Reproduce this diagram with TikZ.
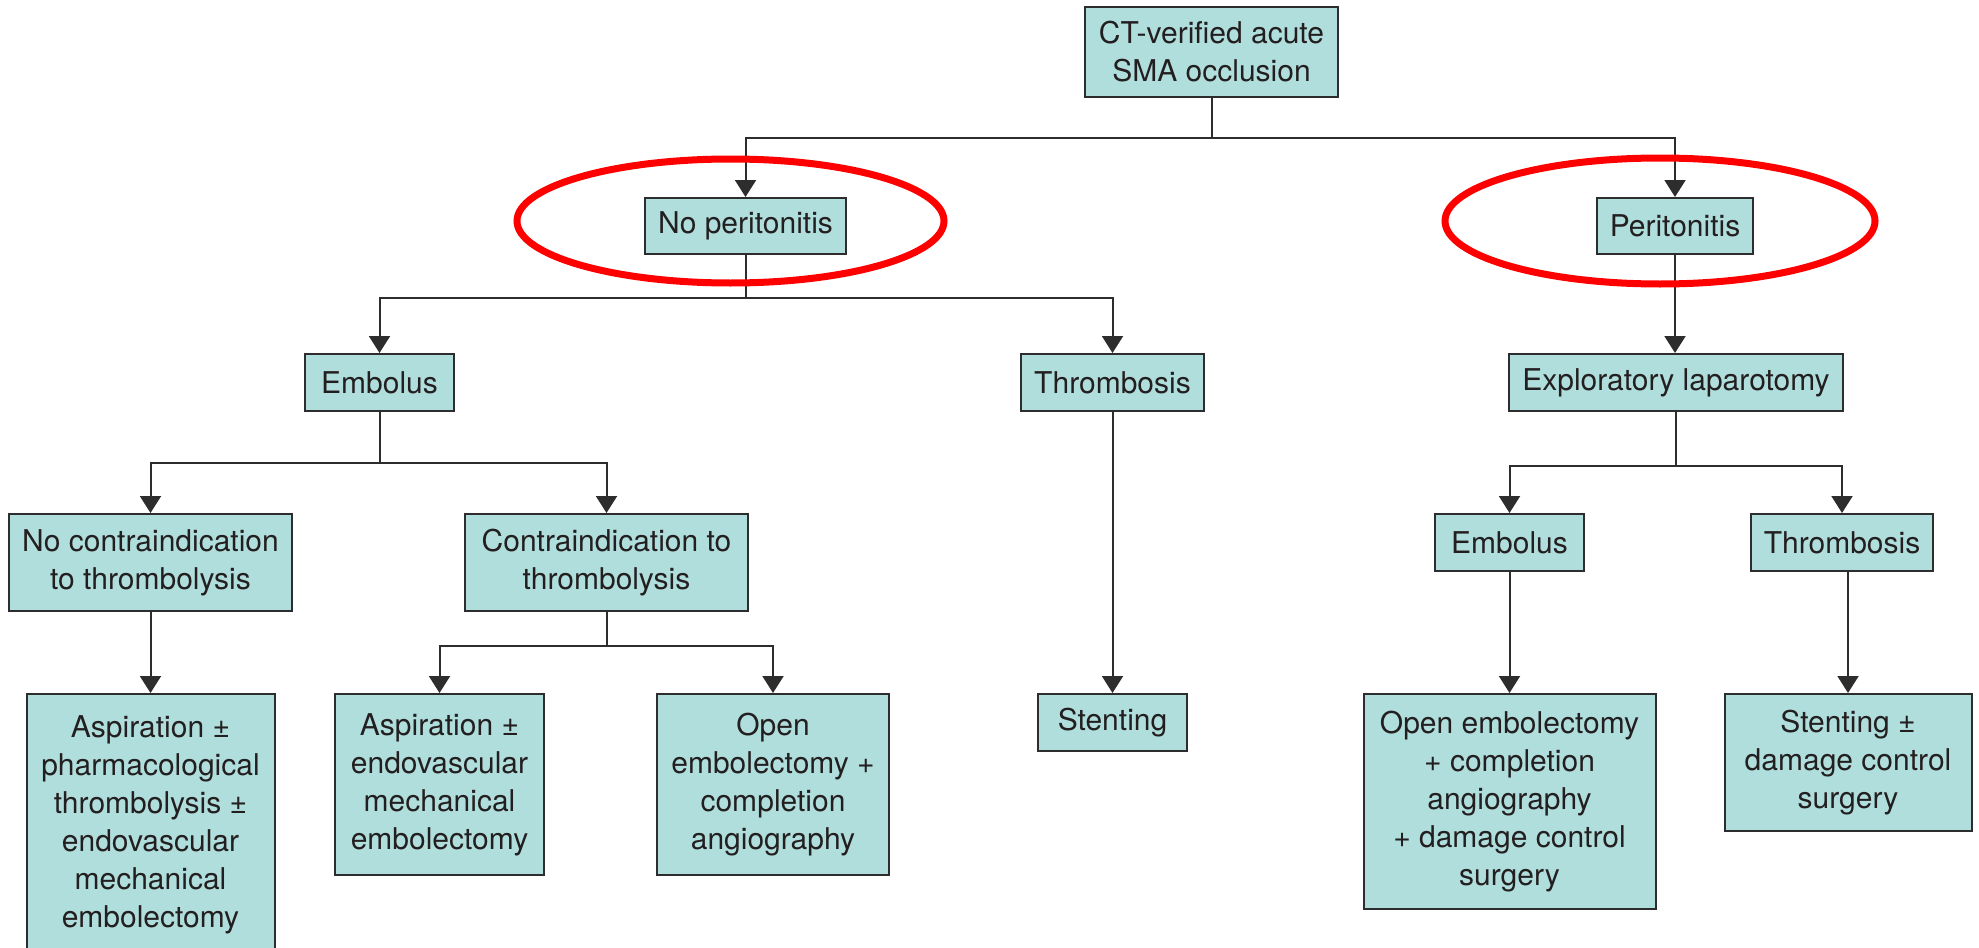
\documentclass[tikz,border=0pt]{standalone}
\usepackage{fontspec}
\setmainfont{TeX Gyre Heros}
\usetikzlibrary{arrows.meta}
\definecolor{boxfill}{RGB}{176,222,220}
\definecolor{boxline}{RGB}{45,45,45}
\definecolor{txt}{RGB}{35,31,32}
\definecolor{ringred}{RGB}{255,0,0}
\tikzset{
  flowbox/.style={draw=boxline, line width=1pt, fill=boxfill, inner sep=0pt,
    align=center, text=txt, font=\fontsize{15pt}{19pt}\selectfont},
  link/.style={draw=boxline, line width=1pt},
  linkarrow/.style={link, -{Triangle[width=10.5pt,length=8.5pt]}},
  ring/.style={draw=ringred, line width=3.5pt}
}
\begin{document}
\begin{tikzpicture}[x=0.5pt,y=-0.5pt]
\useasboundingbox (0,0) rectangle (1979,947);
\clip (0,0) rectangle (1979,947);
% nodes
\node[flowbox, minimum width=126.5pt, minimum height=45pt] (top) at (1211.5,52) {CT-verified acute\\SMA occlusion};
\node[flowbox, minimum width=100.5pt, minimum height=28pt] (noper) at (745.5,226) {No peritonitis};
\node[flowbox, minimum width=78pt, minimum height=28pt] (per) at (1675,226) {Peritonitis};
\node[flowbox, minimum width=74.5pt, minimum height=28.5pt] (emb1) at (379.5,382.5) {Embolus};
\node[flowbox, minimum width=91.5pt, minimum height=28.5pt] (thr1) at (1112.5,382.5) {Thrombosis};
\node[flowbox, minimum width=167pt, minimum height=28.5pt] (expl) at (1676,382.5) {Exploratory laparotomy};
\node[flowbox, minimum width=141.5pt, minimum height=48.5pt] (nocontra) at (150.5,562.5) {No contraindication\\to thrombolysis};
\node[flowbox, minimum width=141.5pt, minimum height=48.5pt] (contra) at (606.5,562.5) {Contraindication to\\thrombolysis};
\node[flowbox, minimum width=74.5pt, minimum height=28.5pt] (emb2) at (1509.5,542.5) {Embolus};
\node[flowbox, minimum width=91pt, minimum height=28.5pt] (thr2) at (1842,542.5) {Thrombosis};
\node[flowbox, minimum width=124pt, minimum height=130.5pt] (asp1) at (150.5,824.5) {Aspiration ±\\pharmacological\\thrombolysis ±\\endovascular\\mechanical\\embolectomy};
\node[flowbox, minimum width=104.5pt, minimum height=90.5pt] (asp2) at (439.5,784.5) {Aspiration ±\\endovascular\\mechanical\\embolectomy};
\node[flowbox, minimum width=116pt, minimum height=90.5pt] (open1) at (773,784.5) {Open\\embolectomy +\\completion\\angiography};
\node[flowbox, minimum width=74.5pt, minimum height=28.5pt] (stent1) at (1112.5,722.5) {Stenting};
\node[flowbox, minimum width=146pt, minimum height=107.5pt] (open2) at (1509.5,801.5) {Open embolectomy\\+ completion\\angiography\\+ damage control\\surgery};
\node[flowbox, minimum width=123.5pt, minimum height=68.5pt] (stent2) at (1848,762.5) {Stenting ±\\damage control\\surgery};
% junction coordinates
\coordinate (j0) at (1211.5,137.5);
\coordinate (j1) at (745.5,298);
\coordinate (j2) at (379.5,462.5);
\coordinate (j3) at (606.5,646);
\coordinate (j4) at (1676,466);
% connectors
\draw[link] (top.south) -- (j0);
\draw[linkarrow] (j0) -| (noper.north);
\draw[linkarrow] (j0) -| (per.north);
\draw[link] (noper.south) -- (j1);
\draw[linkarrow] (j1) -| (emb1.north);
\draw[linkarrow] (j1) -| (thr1.north);
\draw[linkarrow] (per.south) -- (per.south |- expl.north);
\draw[link] (emb1.south) -- (j2);
\draw[linkarrow] (j2) -| (nocontra.north);
\draw[linkarrow] (j2) -| (contra.north);
\draw[linkarrow] (nocontra.south) -- (asp1.north);
\draw[link] (contra.south) -- (j3);
\draw[linkarrow] (j3) -| (asp2.north);
\draw[linkarrow] (j3) -| (open1.north);
\draw[linkarrow] (thr1.south) -- (stent1.north);
\draw[link] (expl.south) -- (j4);
\draw[linkarrow] (j4) -| (emb2.north);
\draw[linkarrow] (j4) -| (thr2.north);
\draw[linkarrow] (emb2.south) -- (open2.north);
\draw[linkarrow] (stent2.north |- thr2.south) -- (stent2.north);
% red rings
\draw[ring] (730.5,221) ellipse [x radius=106.75pt, y radius=31pt];
\draw[ring] (1660,221) ellipse [x radius=107.5pt, y radius=31.5pt];
\end{tikzpicture}
\end{document}
